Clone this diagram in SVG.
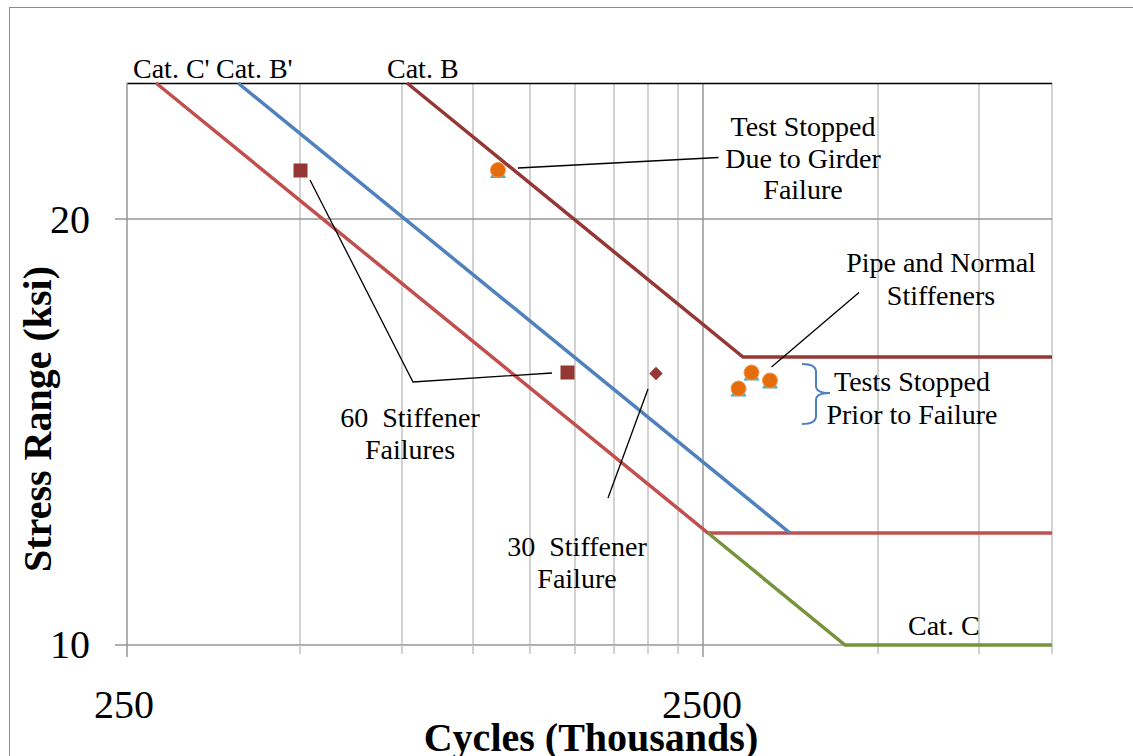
<svg xmlns="http://www.w3.org/2000/svg" width="1133" height="756" viewBox="0 0 1133 756">
  <style>
    .lbl { font-family: "Liberation Serif", "Times New Roman", serif; font-size: 28px; fill: #000; }
    .tick { font-family: "Liberation Serif", "Times New Roman", serif; font-size: 40px; fill: #000; }
    .title { font-family: "Liberation Serif", "Times New Roman", serif; font-size: 40px; font-weight: bold; fill: #000; }
    .minor { stroke: #C4C4C4; stroke-width: 1.5; fill: none; }
    .major { stroke: #979797; stroke-width: 1.5; fill: none; }
    .series { fill: none; stroke-width: 3.5; stroke-linejoin: miter; }
    .leader { stroke: #000; stroke-width: 1.3; fill: none; }
    .sq { fill: #953735; }
    .dot { fill: #E46C0A; stroke: #F79646; stroke-width: 1; }
    .tri { fill: #4BACC6; }
  </style>

  <!-- chart background and outer frame -->
  <rect x="0" y="0" width="1133" height="756" fill="#FFFFFF"/>
  <rect x="9.5" y="7.5" width="1140" height="770" fill="#FFFFFF" stroke="#8C8C8C" stroke-width="1"/>

  <!-- gridlines and axes -->
  <g id="grid">
    <path class="minor" d="M300,83V645 M402,83V645 M473,83V645 M530,83V645 M575,83V645 M614,83V645 M648,83V645 M678,83V645 M878,83V645 M979,83V645 M1052,83V645"/>
    <path class="major" d="M703,83V645 M127,219H1052"/>
    <line x1="127" y1="83.5" x2="1052" y2="83.5" stroke="#000" stroke-width="1.3"/>
    <!-- axes -->
    <path class="major" d="M127,83V657 M115,645H1052 M115,219H127"/>
    <!-- x ticks -->
    <path class="minor" d="M300,645V654 M402,645V654 M473,645V654 M530,645V654 M575,645V654 M614,645V654 M648,645V654 M678,645V654 M878,645V654 M979,645V654 M1052,645V654"/>
    <path class="major" d="M703,645V657"/>
  </g>

  <!-- tick labels and axis titles -->
  <g id="axis-labels">
    <text class="tick" x="90" y="233" text-anchor="end">20</text>
    <text class="tick" x="90" y="658" text-anchor="end">10</text>
    <text class="tick" x="124" y="718" text-anchor="middle">250</text>
    <text class="tick" x="702" y="718" text-anchor="middle">2500</text>
    <text class="title" x="591" y="751" text-anchor="middle">Cycles (Thousands)</text>
    <text class="title" transform="translate(51,419) rotate(-90)" text-anchor="middle">Stress Range (ksi)</text>
  </g>

  <!-- S-N design curves -->
  <g id="curves">
    <polyline id="cat-c-prime" class="series" stroke="#C0504D" points="156,83 708,533 1052,533"/>
    <polyline id="cat-b-prime" class="series" stroke="#4F81BD" points="238,83 790,533"/>
    <polyline id="cat-b" class="series" stroke="#953735" points="407,83 743,357 1052,357"/>
    <polyline id="cat-c" class="series" stroke="#77933C" points="708,533 845,645 1052,645"/>
  </g>

  <!-- leader lines and bracket -->
  <g id="connectors">
    <line class="leader" x1="518" y1="168" x2="718.5" y2="157.5"/>
    <line class="leader" x1="771.5" y1="367" x2="859" y2="292.5"/>
    <polyline class="leader" points="310,180 413,382 552,373"/>
    <line class="leader" x1="648" y1="389" x2="608" y2="498"/>
    <path d="M802,364 Q816,364 816,372 L816,386 Q816,393 830,393 Q816,393 816,400 L816,416 Q816,424 802,424" fill="none" stroke="#4F81BD" stroke-width="2"/>
  </g>

  <!-- test results -->
  <g id="points">
    <rect class="sq" x="293.5" y="163.5" width="14" height="14"/>
    <rect class="sq" x="560.5" y="365.5" width="14" height="14"/>
    <polygon class="sq" points="656,366.8 662.7,373.5 656,380.2 649.3,373.5"/>
    <g id="girder-test">
      <polygon class="tri" points="498,163 490,178 506,178"/>
      <circle class="dot" cx="498" cy="170" r="7.5"/>
    </g>
    <g id="pipe-tests">
      <polygon class="tri" points="738.5,381.5 730.5,396.5 746.5,396.5"/>
      <circle class="dot" cx="738.5" cy="388.5" r="7.5"/>
      <polygon class="tri" points="751.5,365.5 743.5,380.5 759.5,380.5"/>
      <circle class="dot" cx="751.5" cy="372.5" r="7.5"/>
      <polygon class="tri" points="770,373.5 762,388.5 778,388.5"/>
      <circle class="dot" cx="770" cy="380.5" r="7.5"/>
    </g>
  </g>

  <!-- curve names -->
  <g id="curve-labels">
    <text class="lbl" x="133" y="78">Cat. C'</text>
    <text class="lbl" x="216" y="78">Cat. B'</text>
    <text class="lbl" x="387" y="78">Cat. B</text>
    <text class="lbl" x="908" y="635">Cat. C</text>
  </g>

  <!-- annotations -->
  <g id="note-girder">
    <text class="lbl" x="803" y="136" text-anchor="middle">Test Stopped</text>
    <text class="lbl" x="803" y="167.5" text-anchor="middle">Due to Girder</text>
    <text class="lbl" x="803" y="199" text-anchor="middle">Failure</text>
  </g>
  <g id="note-pipe">
    <text class="lbl" x="941" y="272" text-anchor="middle">Pipe and Normal</text>
    <text class="lbl" x="941" y="305" text-anchor="middle">Stiffeners</text>
  </g>
  <g id="note-prior">
    <text class="lbl" x="912" y="391" text-anchor="middle">Tests Stopped</text>
    <text class="lbl" x="912" y="423.5" text-anchor="middle">Prior to Failure</text>
  </g>
  <g id="note-60">
    <text class="lbl" x="410" y="427" text-anchor="middle" xml:space="preserve">60  Stiffener</text>
    <text class="lbl" x="410" y="459" text-anchor="middle">Failures</text>
  </g>
  <g id="note-30">
    <text class="lbl" x="577" y="556" text-anchor="middle" xml:space="preserve">30  Stiffener</text>
    <text class="lbl" x="577" y="588" text-anchor="middle">Failure</text>
  </g>
</svg>
